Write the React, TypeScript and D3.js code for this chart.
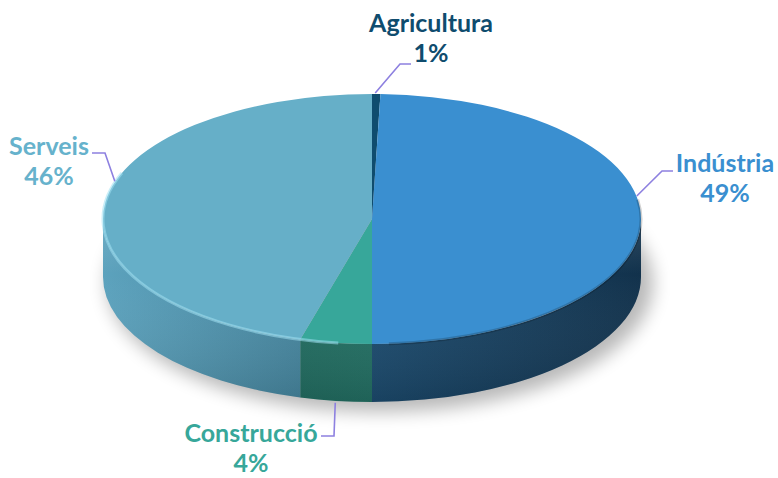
import React from "react";
import * as d3 from "d3";

const categories = ["Agricultura", "Indústria", "Construcció", "Serveis"];
const values = [0.5, 49.5, 4.3, 45.7];
const labels = ["1%", "49%", "4%", "46%"];
const topColors = ["#0f4c6e", "#3a8fd0", "#37a79a", "#66afc8"];
const sideDark = ["#0b3550", "#12324c", "#1d6459", "#3d7a92"];
const sideLight = ["#0d3f5e", "#1c4b6e", "#236f63", "#5ca2bd"];
const textColors = ["#0f4c6e", "#3a8fd0", "#37a79a", "#66b2cc"];

const W = 778, H = 478;
const cx = 372, cy = 219, rx = 269, ry = 125, depth = 58;

// label layout (styling only)
const layout = [
  { t: 0.012, off: 0, elbow: [400, 64], end: [411, 64], tx: 431, ty: 32 },
  { t: 1.394, off: 0, elbow: [662, 171], end: [673, 171], tx: 725, ty: 172 },
  { t: Math.PI + 0.137, off: 1, elbow: [334, 436], end: [321, 436], tx: 251, ty: 442 },
  { t: 5.01, off: 0, elbow: [105, 153], end: [92, 153], tx: 49, ty: 155 },
];

const pt = (t: number, dy = 0): [number, number] => [cx + rx * Math.sin(t), cy - ry * Math.cos(t) + dy];

export default function App() {
  const pie = d3.pie<number>().sort(null).startAngle(0).endAngle(2 * Math.PI);
  const arcs = pie(values);

  const topPath = (a: number, b: number) => {
    const p0 = pt(a), p1 = pt(b);
    const large = b - a > Math.PI ? 1 : 0;
    return `M${cx},${cy}L${p0[0]},${p0[1]}A${rx},${ry} 0 ${large} 1 ${p1[0]},${p1[1]}Z`;
  };
  const sidePath = (a0: number, b0: number) => {
    const a = Math.max(a0, Math.PI / 2), b = Math.min(b0, 1.5 * Math.PI);
    if (b <= a) return null;
    const p0 = pt(a), p1 = pt(b), q1 = pt(b, depth), q0 = pt(a, depth);
    return `M${p0[0]},${p0[1]}A${rx},${ry} 0 0 1 ${p1[0]},${p1[1]}L${q1[0]},${q1[1]}A${rx},${ry} 0 0 0 ${q0[0]},${q0[1]}Z`;
  };

  return (
    <svg width={W} height={H} style={{ position: "absolute", left: 0, top: 0 }}>
      <defs>
        <filter id="blur" x="-20%" y="-20%" width="140%" height="140%">
          <feGaussianBlur stdDeviation="9" />
        </filter>
        {arcs.map((d, i) => (
          <linearGradient key={i} id={`sg${i}`} gradientUnits="userSpaceOnUse" x1={cx - rx} x2={cx + rx} y1={0} y2={0}>
            <stop offset="0" stopColor={i === 3 ? sideLight[i] : sideDark[i]} />
            <stop offset="0.5" stopColor={i === 3 ? sideDark[i] : sideLight[i]} />
            <stop offset="1" stopColor={sideDark[i]} />
          </linearGradient>
        ))}
        <linearGradient id="shade" x1="0" x2="0" y1="0" y2="1">
          <stop offset="0" stopColor="#fff" stopOpacity="0.12" />
          <stop offset="0.3" stopColor="#fff" stopOpacity="0" />
          <stop offset="1" stopColor="#000" stopOpacity="0.12" />
        </linearGradient>
      </defs>
      <rect width={W} height={H} fill="#fff" />
      <ellipse cx={cx + 8} cy={cy + depth + 6} rx={rx + 4} ry={ry + 4} fill="#000" opacity={0.28} filter="url(#blur)" />
      {arcs.map((d, i) => {
        const p = sidePath(d.startAngle, d.endAngle);
        return p ? <path key={i} d={p} fill={`url(#sg${i})`} /> : null;
      })}
      <path d={sidePath(Math.PI / 2, 1.5 * Math.PI) || ""} fill="url(#shade)" />
      {arcs.map((d, i) => (
        <path key={i} d={topPath(d.startAngle, d.endAngle)} fill={topColors[i]} />
      ))}
      <path
        d={`M${pt(Math.PI * 1.04)[0]},${pt(Math.PI * 1.04)[1]}A${rx},${ry} 0 0 1 ${pt(Math.PI * 1.62)[0]},${pt(Math.PI * 1.62)[1]}`}
        fill="none" stroke="#9fe0f2" strokeOpacity={0.55} strokeWidth={3}
      />
      <path
        d={`M${pt(Math.PI * 0.45)[0]},${pt(Math.PI * 0.45)[1]}A${rx},${ry} 0 0 1 ${pt(Math.PI * 0.98)[0]},${pt(Math.PI * 0.98)[1]}`}
        fill="none" stroke="#000" strokeOpacity={0.18} strokeWidth={3}
      />
      {arcs.map((d, i) => {
        const L = layout[i];
        const a = pt(L.t, L.off ? depth + 2 : -1);
        return (
          <g key={i}>
            <polyline
              points={`${a[0]},${a[1]} ${L.elbow[0]},${L.elbow[1]} ${L.end[0]},${L.end[1]}`}
              fill="none" stroke="#8d80e0" strokeWidth={1.6}
            />
            <text x={L.tx} y={L.ty} textAnchor="middle" fontFamily="Lato" fontWeight={700} fontSize={25} fill={textColors[i]}>
              {categories[i]}
            </text>
            <text x={L.tx} y={L.ty + 30} textAnchor="middle" fontFamily="Lato" fontWeight={700} fontSize={25} fill={textColors[i]}>
              {labels[i]}
            </text>
          </g>
        );
      })}
    </svg>
  );
}
